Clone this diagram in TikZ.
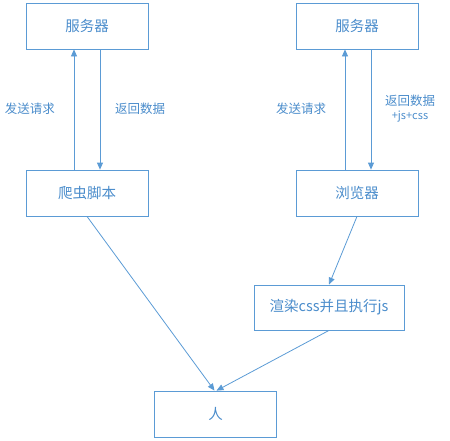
\documentclass[tikz,border=0pt]{standalone}
\usepackage{fontspec}
\setmainfont{Noto Sans CJK SC}
\usetikzlibrary{arrows.meta}
\definecolor{lineblue}{HTML}{5B9BD5}
\definecolor{textblue}{HTML}{4A8CCB}

\begin{document}
\begin{tikzpicture}[x=1pt, y=-1pt,
    box/.style={draw=lineblue, line width=0.8pt, minimum width=122pt, minimum height=46pt,
        inner sep=0pt, text=textblue, font=\fontsize{14.5}{16}\selectfont},
    lbl/.style={text=textblue, font=\fontsize{12.5}{14}\selectfont, inner sep=1pt},
    arr/.style={draw=lineblue, line width=0.8pt, -{Triangle[width=6pt,length=7pt]}}]
    \useasboundingbox (0,0) rectangle (450,440);

    % Left: crawler
    \node[box] (serverL) at (87,26) {服务器};
    \node[box] (pachong) at (87,193) {爬虫脚本};
    \draw[arr] ([xshift=-13pt]pachong.north) -- ([xshift=-13pt]serverL.south);
    \draw[arr] ([xshift=13pt]serverL.south) -- ([xshift=13pt]pachong.north);
    \node[lbl] (reqL) at (30,109) {发送请求};
    \node[lbl] (resL) at (140,109) {返回数据};

    % Right: browser
    \node[box] (serverR) at (357,26) {服务器};
    \node[box] (liulanqi) at (357,193) {浏览器};
    \draw[arr] ([xshift=-12pt]liulanqi.north) -- ([xshift=-12pt]serverR.south);
    \draw[arr] ([xshift=14pt]serverR.south) -- ([xshift=14pt]liulanqi.north);
    \node[lbl] (reqR) at (301,109) {发送请求};
    \node[lbl] (resR) at (410,101) {返回数据};
    \node[lbl, font=\fontsize{11}{12}\selectfont] (resRx) at (410,117) {+js+css};

    % Render and person
    \node[box, minimum width=150pt, minimum height=45pt] (xuanran) at (329,307.5) {渲染css并且执行js};
    \node[box] (ren) at (215.5,414) {人};
    \draw[arr] (liulanqi.south) -- (xuanran.north);
    \draw[arr] (pachong.south) -- ([xshift=-1pt]ren.north);
    \draw[arr] (xuanran.south) -- ([xshift=1pt]ren.north);
\end{tikzpicture}
\end{document}
